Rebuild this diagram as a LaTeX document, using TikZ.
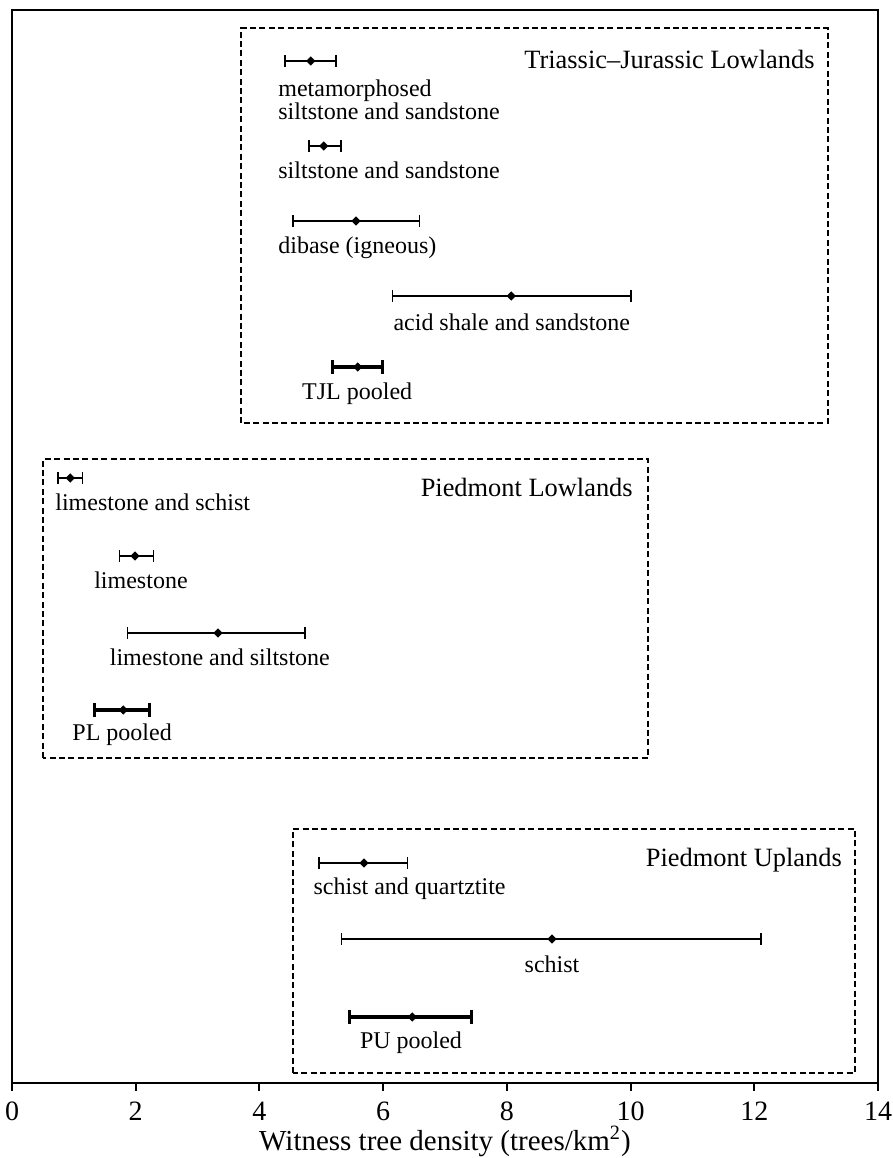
\documentclass[tikz,border=0pt]{standalone}
\usepackage{fontspec}
\setmainfont{Liberation Serif}
\usetikzlibrary{arrows.meta, positioning, shapes.geometric}
\tikzset{
    frame/.style={draw, line width=1pt},
    region/.style={draw, line width=0.8pt, dash pattern=on 3pt off 1.7pt},
    regiontitle/.style={anchor=base east, inner sep=0pt, font=\fontsize{13.2}{15}\selectfont},
    errbar/.style={{Bar[width=6pt]}-{Bar[width=6pt]}, line width=0.7pt},
    pooledbar/.style={{Bar[width=7pt]}-{Bar[width=7pt]}, line width=1.6pt},
    meanpt/.style={diamond, fill=black, inner sep=0pt, minimum size=4.8pt},
    rocklabel/.style={anchor=base, inner sep=0pt, font=\fontsize{12}{14}\selectfont},
    ticklabel/.style={anchor=north, inner sep=0pt, font=\fontsize{14}{16}\selectfont},
    axistitle/.style={anchor=base, inner sep=0pt, font=\fontsize{14.5}{17}\selectfont},
}

\begin{document}
\begin{tikzpicture}[x=30.93pt, y=5pt]
    \useasboundingbox (-0.194,-7.5) rectangle (14.226,108.3);

    % plot frame and x axis
    \draw[frame] (0,0) -- (0,107.3) -- (14,107.3) -- (14,0) -- cycle;
    \foreach \x in {0,2,...,14}
        \draw[frame] (\x,0) -- (\x,-0.8) node[ticklabel, below=5pt] (tick\x) {\x};
    \node[axistitle] (xtitle) at (7,-6.7) {Witness tree density (trees/km\textsuperscript{2})};

    % Triassic--Jurassic Lowlands
    \draw[region] (3.70,66.0) rectangle (13.19,105.5);
    \node[regiontitle] (tjltitle) at (12.98,101.4) {Triassic--Jurassic Lowlands};

    \coordinate (meta-lo) at (4.40,102.2);
    \coordinate (meta-hi) at (5.25,102.2);
    \draw[errbar] (meta-lo) -- (meta-hi);
    \node[meanpt] (meta) at (4.83,102.2) {};
    \node[rocklabel, anchor=base west] (meta-lab) at (4.30,98.65) {metamorphosed};
    \node[rocklabel, anchor=base west] (meta-lab2) at (4.30,96.35) {siltstone and sandstone};

    \coordinate (silt-lo) at (4.79,93.7);
    \coordinate (silt-hi) at (5.33,93.7);
    \draw[errbar] (silt-lo) -- (silt-hi);
    \node[meanpt] (silt) at (5.04,93.7) {};
    \node[rocklabel, anchor=base west] (silt-lab) at (4.30,90.4) {siltstone and sandstone};

    \coordinate (dib-lo) at (4.53,86.2);
    \coordinate (dib-hi) at (6.60,86.2);
    \draw[errbar] (dib-lo) -- (dib-hi);
    \node[meanpt] (dib) at (5.56,86.2) {};
    \node[rocklabel, anchor=base west] (dib-lab) at (4.30,82.9) {dibase (igneous)};

    \coordinate (acid-lo) at (6.14,78.7);
    \coordinate (acid-hi) at (10.02,78.7);
    \draw[errbar] (acid-lo) -- (acid-hi);
    \node[meanpt] (acid) at (8.07,78.7) {};
    \node[rocklabel] (acid-lab) at (8.08,75.2) {acid shale and sandstone};

    \coordinate (tjl-lo) at (5.16,71.6);
    \coordinate (tjl-hi) at (6.01,71.6);
    \draw[pooledbar] (tjl-lo) -- (tjl-hi);
    \node[meanpt] (tjl) at (5.59,71.6) {};
    \node[rocklabel] (tjl-lab) at (5.58,68.3) {TJL pooled};

    % Piedmont Lowlands
    \draw[region] (0.50,32.5) rectangle (10.28,62.4);
    \node[regiontitle] (pltitle) at (10.04,58.6) {Piedmont Lowlands};

    \coordinate (lsch-lo) at (0.73,60.5);
    \coordinate (lsch-hi) at (1.15,60.5);
    \draw[errbar] (lsch-lo) -- (lsch-hi);
    \node[meanpt] (lsch) at (0.94,60.5) {};
    \node[rocklabel, anchor=base west] (lsch-lab) at (0.695,57.2) {limestone and schist};

    \coordinate (lime-lo) at (1.73,52.7);
    \coordinate (lime-hi) at (2.30,52.7);
    \draw[errbar] (lime-lo) -- (lime-hi);
    \node[meanpt] (lime) at (1.99,52.7) {};
    \node[rocklabel] (lime-lab) at (2.085,49.4) {limestone};

    \coordinate (lsil-lo) at (1.86,45.0);
    \coordinate (lsil-hi) at (4.75,45.0);
    \draw[errbar] (lsil-lo) -- (lsil-hi);
    \node[meanpt] (lsil) at (3.33,45.0) {};
    \node[rocklabel] (lsil-lab) at (3.36,41.7) {limestone and siltstone};

    \coordinate (pl-lo) at (1.31,37.3);
    \coordinate (pl-hi) at (2.25,37.3);
    \draw[pooledbar] (pl-lo) -- (pl-hi);
    \node[meanpt] (pl) at (1.80,37.3) {};
    \node[rocklabel] (pl-lab) at (1.78,34.2) {PL pooled};

    % Piedmont Uplands
    \draw[region] (4.54,1.0) rectangle (13.63,25.4);
    \node[regiontitle] (putitle) at (13.42,21.6) {Piedmont Uplands};

    \coordinate (squa-lo) at (4.95,22.0);
    \coordinate (squa-hi) at (6.40,22.0);
    \draw[errbar] (squa-lo) -- (squa-hi);
    \node[meanpt] (squa) at (5.69,22.0) {};
    \node[rocklabel, anchor=base west] (squa-lab) at (4.87,18.8) {schist and quartztite};

    \coordinate (sch-lo) at (5.32,14.4);
    \coordinate (sch-hi) at (12.12,14.4);
    \draw[errbar] (sch-lo) -- (sch-hi);
    \node[meanpt] (sch) at (8.73,14.4) {};
    \node[rocklabel] (sch-lab) at (8.73,11.1) {schist};

    \coordinate (pu-lo) at (5.43,6.6);
    \coordinate (pu-hi) at (7.45,6.6);
    \draw[pooledbar] (pu-lo) -- (pu-hi);
    \node[meanpt] (pu) at (6.47,6.6) {};
    \node[rocklabel] (pu-lab) at (6.45,3.4) {PU pooled};
\end{tikzpicture}
\end{document}
